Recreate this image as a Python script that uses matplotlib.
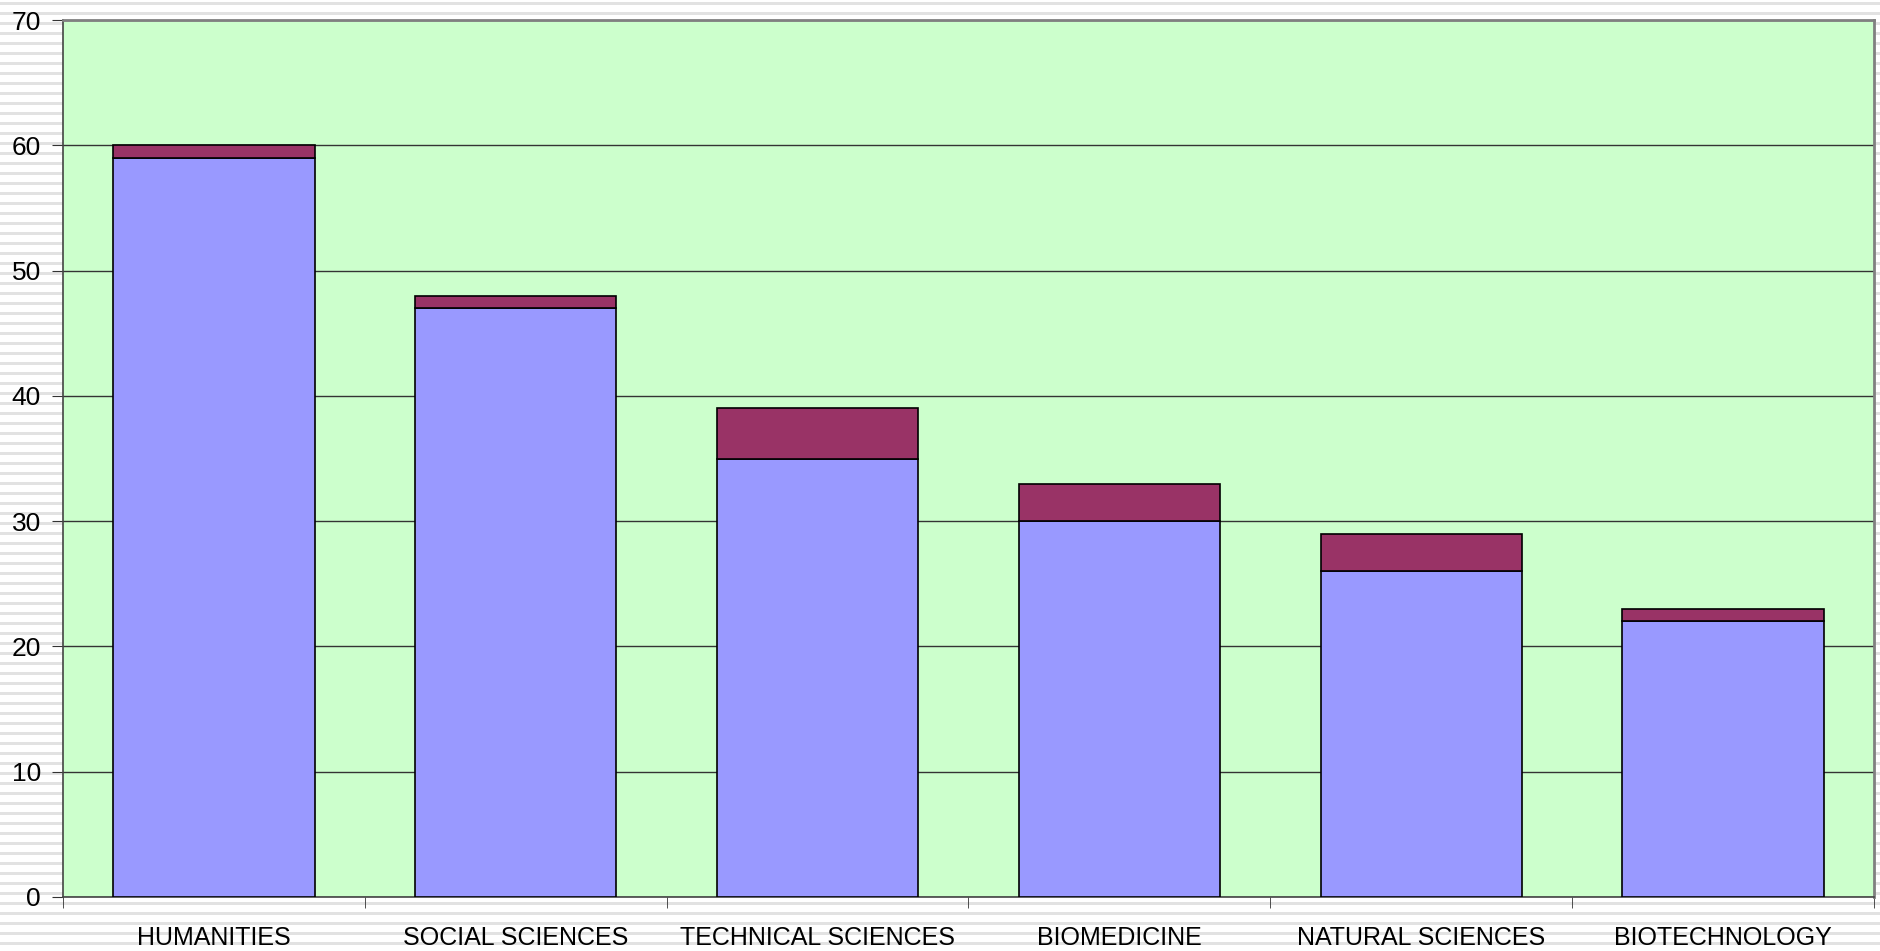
import numpy as np
import matplotlib.pyplot as plt

categories = ['HUMANITIES', 'SOCIAL SCIENCES', 'TECHNICAL SCIENCES',
              'BIOMEDICINE', 'NATURAL SCIENCES', 'BIOTECHNOLOGY']
lower = [59, 47, 35, 30, 26, 22]
upper = [1, 1, 4, 3, 3, 1]
yticks = [0, 10, 20, 30, 40, 50, 60, 70]

plt.rcParams['font.family'] = ['Liberation Sans', 'DejaVu Sans']

fig = plt.figure(figsize=(18.81, 9.51), dpi=100)

# striped background, in pixel units of a full-figure axes
bg = fig.add_axes([0, 0, 1, 1], zorder=-5)
bg.set_xlim(0, 1881)
bg.set_ylim(951, 0)
bg.axis('off')
for yy in np.arange(2, 951, 10):
    bg.axhspan(yy, yy + 3, color='#e2e2e2', lw=0)

ax = fig.add_axes([63 / 1881, 1 - 897 / 951, (1874 - 63) / 1881, (897 - 20) / 951], zorder=1)
ax.set_facecolor('#CCFFCC')

x = np.arange(len(categories))
ax.bar(x, lower, width=0.667, color='#9999FF', edgecolor='black', linewidth=1.2, zorder=3)
ax.bar(x, upper, width=0.667, bottom=lower, color='#993366', edgecolor='black',
       linewidth=1.2, zorder=3)

ax.set_xlim(-0.5, len(categories) - 0.5)
ax.set_ylim(0, 70)
ax.set_yticks(yticks)
ax.yaxis.grid(True, color='#333333', linewidth=1.0, zorder=1)
ax.set_axisbelow(True)

ax.set_xticks(x)
ax.set_xticklabels(categories, fontsize=18)
ax.set_xticks(np.arange(-0.5, len(categories)), minor=True)
ax.tick_params(axis='x', which='major', length=0, pad=21)
ax.tick_params(axis='x', which='minor', length=8, color='#333333', direction='out')
ax.tick_params(axis='y', labelsize=19, length=8, pad=8, color='#333333')

for s in ['top', 'right']:
    ax.spines[s].set_color('#808080')
    ax.spines[s].set_linewidth(2)
for s in ['left', 'bottom']:
    ax.spines[s].set_color('#444444')
    ax.spines[s].set_linewidth(1.2)

fig.savefig('out.png', dpi=100)
